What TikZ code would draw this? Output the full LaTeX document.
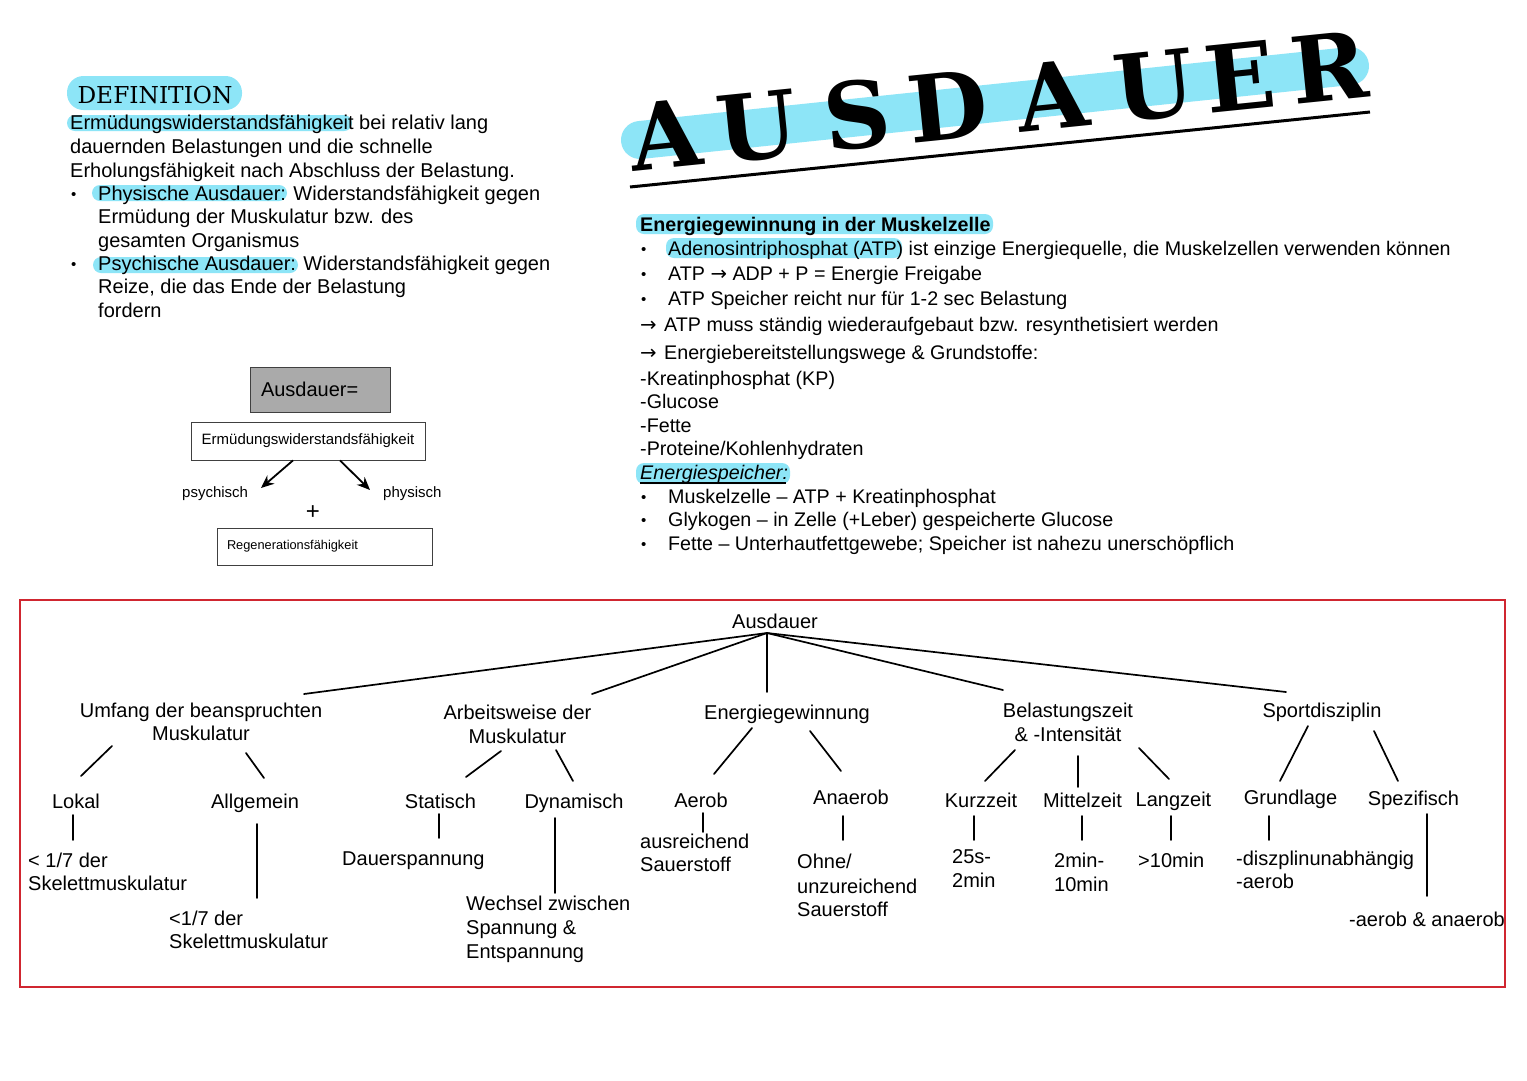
\documentclass[tikz,border=0pt]{standalone}
\usepackage{fontspec}
\setmainfont{Liberation Sans}
\newfontfamily\twfont{DejaVu Serif}
\newfontfamily\arrfont{DejaVu Sans}
\usetikzlibrary{arrows.meta}
\definecolor{hl}{RGB}{141,229,247}
\definecolor{framered}{RGB}{208,38,48}
\definecolor{boxgray}{RGB}{170,170,170}
\begin{document}
\begin{tikzpicture}[x=1pt,y=1pt,
  lt/.style={inner sep=0pt,anchor=base west,font=\fontsize{20}{24}\selectfont},
  rt/.style={inner sep=0pt,anchor=base west,font=\fontsize{19.7}{24}\selectfont},
  rtb/.style={inner sep=0pt,anchor=base west,font=\fontsize{19.7}{24}\selectfont\bfseries},
  rti/.style={inner sep=0pt,anchor=base west,font=\fontsize{19.7}{24}\selectfont\itshape},
  bul/.style={inner sep=0pt,anchor=base west,font=\fontsize{15}{18}\selectfont},
  tc/.style={inner sep=0pt,anchor=base,font=\fontsize{20}{24}\selectfont},
  tw/.style={inner sep=0pt,anchor=base west,font=\fontsize{20}{24}\selectfont},
  hlband/.style={fill=hl,rounded corners=8pt},
  ttl/.style={inner sep=0pt,anchor=base,rotate=5.8,font=\twfont\bfseries\fontsize{92}{92}\selectfont},
  tl/.style={line width=1.7pt,line cap=round},
  boxline/.style={draw=black!75,line width=0.8pt},
  arr/.style={line width=1.8pt,-{Stealth[length=13pt,width=11pt]}}
]
\useasboundingbox (0,0) rectangle (1527,-1080);
\fill[white] (0,0) rectangle (1527,-1080);

% ---------- Title ----------
\draw[line width=38pt,line cap=round,hl] (640,-140) -- (1350,-66);
\draw[line width=3pt] (630,-187) -- (1370,-112);
\foreach \c/\x/\y [count=\i] in {A/669/168,U/760/159,S/861/148,D/951/139,A/1056/129,U/1157/118,E/1243/110,R/1333/101}
  \node[ttl] (title\i) at (\x,-\y) {\c};

% ---------- Definition block ----------
\fill[hl,rounded corners=16.5pt] (67,-76) rectangle (242,-110);
\node[inner sep=0pt,anchor=base,font=\twfont\fontsize{23.3}{24}\selectfont] (defn) at (155,-103) {DEFINITION};
\fill[hlband] (67,-115) rectangle (352,-131);
\fill[hlband] (92,-185) rectangle (287,-201);
\fill[hlband] (93,-257) rectangle (298,-273);
\node[lt] (d1) at (70,-129) {Ermüdungswiderstandsfähigkeit bei relativ lang};
\node[lt] (d2) at (70,-153) {dauernden Belastungen und die schnelle};
\node[lt] (d3) at (70,-177) {Erholungsfähigkeit nach Abschluss der Belastung.};
\node[bul] (db1) at (71,-199) {•};
\node[lt] (d4) at (98,-200) {Physische Ausdauer: Widerstandsfähigkeit gegen};
\node[lt] (d5) at (98,-223) {Ermüdung der Muskulatur bzw. des};
\node[lt] (d6) at (98,-247) {gesamten Organismus};
\node[bul] (db2) at (71,-269) {•};
\node[lt] (d7) at (98,-270) {Psychische Ausdauer: Widerstandsfähigkeit gegen};
\node[lt] (d8) at (98,-293) {Reize, die das Ende der Belastung};
\node[lt] (d9) at (98,-317) {fordern};

% ---------- small diagram ----------
\node[boxline,fill=boxgray,minimum width=140pt,minimum height=45pt,text width=118pt,inner xsep=11pt,inner ysep=0pt,align=left,font=\fontsize{20}{24}\selectfont] (sb1) at (320,-389.5) {Ausdauer=};
\node[boxline,minimum width=234pt,minimum height=38pt,inner sep=0pt,font=\fontsize{15}{18}\selectfont] (sb2) at (308,-441) {Ermüdungswiderstandsfähigkeit};
\coordinate (pe) at (261,-488);
\coordinate (ye) at (370,-490);
\draw[arr] ([xshift=-15pt]sb2.south) -- (pe);
\draw[arr] ([xshift=32pt]sb2.south) -- (ye);
\node[inner sep=0pt,anchor=base west,font=\fontsize{15}{18}\selectfont] (psy) at (182,-497) {psychisch};
\node[inner sep=0pt,anchor=base west,font=\fontsize{15}{18}\selectfont] (phy) at (383,-497) {physisch};
\node[inner sep=0pt,font=\fontsize{24}{24}\selectfont] (plus) at (313,-513) {+};
\node[boxline,minimum width=215pt,minimum height=37pt,text width=195pt,inner xsep=10pt,inner ysep=0pt,align=left,font=\fontsize{12.8}{15}\selectfont] (sb3) at (324.5,-546.5) {Regenerationsfähigkeit};

% ---------- right block ----------
\fill[hlband] (636,-214) rectangle (993,-234);
\fill[hlband] (666,-238) rectangle (902,-258);
\fill[hlband] (636,-463) rectangle (790,-484);
\node[rtb] (e0) at (640,-231) {Energiegewinnung in der Muskelzelle};
\node[bul] (eb1) at (641,-254) {•};
\node[rt] (e1) at (668,-255) {Adenosintriphosphat (ATP) ist einzige Energiequelle, die Muskelzellen verwenden können};
\node[bul] (eb2) at (641,-279) {•};
\node[rt] (e2) at (668,-280) {ATP {\arrfont →} ADP + P = Energie Freigabe};
\node[bul] (eb3) at (641,-304) {•};
\node[rt] (e3) at (668,-305) {ATP Speicher reicht nur für 1-2 sec Belastung};
\node[rt] (e4) at (640,-331) {{\arrfont →}\hspace{2pt} ATP muss ständig wiederaufgebaut bzw. resynthetisiert werden};
\node[rt] (e5) at (640,-359) {{\arrfont →}\hspace{2pt} Energiebereitstellungswege \& Grundstoffe:};
\node[rt] (e6) at (640,-385) {-Kreatinphosphat (KP)};
\node[rt] (e7) at (640,-408) {-Glucose};
\node[rt] (e8) at (640,-432) {-Fette};
\node[rt] (e9) at (640,-455) {-Proteine/Kohlenhydraten};
\node[rti] (e10) at (640,-479) {Energiespeicher:};
\draw[line width=1.3pt] (e10.base west) ++(0,-4) -- ++(146,0);
\node[bul] (eb4) at (641,-502) {•};
\node[rt] (e11) at (668,-503) {Muskelzelle – ATP + Kreatinphosphat};
\node[bul] (eb5) at (641,-525) {•};
\node[rt] (e12) at (668,-526) {Glykogen – in Zelle (+Leber) gespeicherte Glucose};
\node[bul] (eb6) at (641,-549) {•};
\node[rt] (e13) at (668,-550) {Fette – Unterhautfettgewebe; Speicher ist nahezu unerschöpflich};

% ---------- tree frame ----------
\draw[framered,line width=2pt] (20,-600) rectangle (1505,-987);

% tree nodes
\node[tc] (root) at (775,-628) {Ausdauer};
\node[tc] (umf1) at (201,-717) {Umfang der beanspruchten};
\node[tc] (umf2) at (201,-740) {Muskulatur};
\node[tc] (arb1) at (517.5,-719) {Arbeitsweise der};
\node[tc] (arb2) at (517.5,-743) {Muskulatur};
\node[tc] (ene) at (787,-719) {Energiegewinnung};
\node[tc] (bel1) at (1068,-717) {Belastungszeit};
\node[tc] (bel2) at (1068,-741) {\& -Intensität};
\node[tc] (spo) at (1322,-717) {Sportdisziplin};

\node[tc] (lok) at (76,-808) {Lokal};
\node[tc] (allg) at (255,-808) {Allgemein};
\node[tc] (stat) at (440.5,-808) {Statisch};
\node[tc] (dyn) at (574,-808) {Dynamisch};
\node[tc] (aer) at (701,-807) {Aerob};
\node[tc] (ana) at (851,-804) {Anaerob};
\node[tc] (kurz) at (981,-807) {Kurzzeit};
\node[tc] (mit) at (1082.5,-807) {Mittelzeit};
\node[tc] (lang) at (1173.5,-806) {Langzeit};
\node[tc] (gru) at (1290.5,-804) {Grundlage};
\node[tc] (spe) at (1413.5,-805) {Spezifisch};

\node[tw] (lok1) at (28,-867) {< 1/7 der};
\node[tw] (lok2) at (28,-890) {Skelettmuskulatur};
\node[tw] (all1) at (169,-925) {<1/7 der};
\node[tw] (all2) at (169,-948) {Skelettmuskulatur};
\node[tw] (sta1) at (342,-865) {Dauerspannung};
\node[tw] (dyn1) at (466,-910) {Wechsel zwischen};
\node[tw] (dyn2) at (466,-934) {Spannung \&};
\node[tw] (dyn3) at (466,-958) {Entspannung};
\node[tw] (aer1) at (640,-848) {ausreichend};
\node[tw] (aer2) at (640,-871) {Sauerstoff};
\node[tw] (ana1) at (797,-868) {Ohne/};
\node[tw] (ana2) at (797,-893) {unzureichend};
\node[tw] (ana3) at (797,-916) {Sauerstoff};
\node[tw] (kur1) at (952,-863) {25s-};
\node[tw] (kur2) at (952,-887) {2min};
\node[tw] (mit1) at (1054,-867) {2min-};
\node[tw] (mit2) at (1054,-891) {10min};
\node[tw] (lan1) at (1138,-867) {>10min};
\node[tw] (gru1) at (1236,-865) {-diszplinunabhängig};
\node[tw] (gru2) at (1236,-888) {-aerob};
\node[tw] (spe1) at (1349,-926) {-aerob \& anaerob};

% connector end points
\foreach \n/\x/\y in {r/767/633, cU/304/694, cA/592/694, cE/767/692, cB/1003/690, cS/1286/692,
  uL/112/746, lL/81/776, uA/246/753, lA/264/778,
  aS/501/751, sS/466/777, aD/556/750, sD/573/781,
  eA/752/728, sA/714/774, eN/810/731, sN/841/771,
  bK/1015/750, sK/985/781, bM/1078/756, sM/1078/787, bL/1139/748, sL/1169/779,
  pG/1308/726, sG/1280/781, pZ/1374/731, sZ/1398/781,
  vL1/73/815, vL2/73/840, vA1/257/824, vA2/257/898,
  vS1/439/814, vS2/439/838, vD1/555/818, vD2/555/893,
  vE1/703/813, vE2/703/832, vN1/843/816, vN2/843/840,
  vK1/974/816, vK2/974/840, vM1/1082/816, vM2/1082/840,
  vT1/1171/816, vT2/1171/840, vG1/1269/816, vG2/1269/840,
  vZ1/1427/814, vZ2/1427/896}
  \coordinate (\n) at (\x,-\y);

\draw[tl] (r) -- (cU);
\draw[tl] (r) -- (cA);
\draw[tl] (r) -- (cE);
\draw[tl] (r) -- (cB);
\draw[tl] (r) -- (cS);
\draw[tl] (uL) -- (lL);
\draw[tl] (uA) -- (lA);
\draw[tl] (aS) -- (sS);
\draw[tl] (aD) -- (sD);
\draw[tl] (eA) -- (sA);
\draw[tl] (eN) -- (sN);
\draw[tl] (bK) -- (sK);
\draw[tl] (bM) -- (sM);
\draw[tl] (bL) -- (sL);
\draw[tl] (pG) -- (sG);
\draw[tl] (pZ) -- (sZ);
\draw[tl] (vL1) -- (vL2);
\draw[tl] (vA1) -- (vA2);
\draw[tl] (vS1) -- (vS2);
\draw[tl] (vD1) -- (vD2);
\draw[tl] (vE1) -- (vE2);
\draw[tl] (vN1) -- (vN2);
\draw[tl] (vK1) -- (vK2);
\draw[tl] (vM1) -- (vM2);
\draw[tl] (vT1) -- (vT2);
\draw[tl] (vG1) -- (vG2);
\draw[tl] (vZ1) -- (vZ2);
\end{tikzpicture}
\end{document}
